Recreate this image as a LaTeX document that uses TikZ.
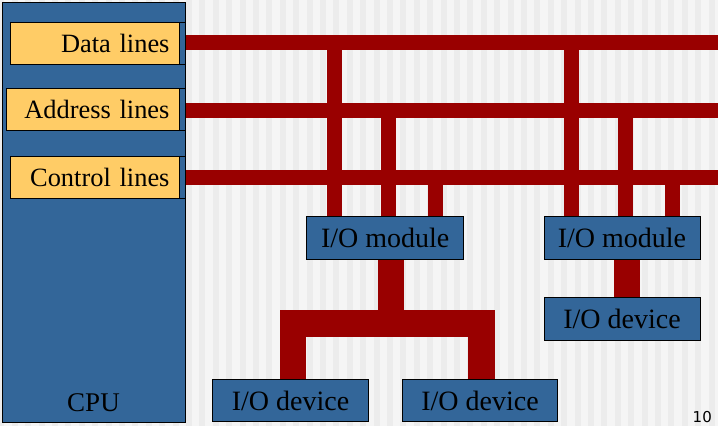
\documentclass[tikz,border=0pt]{standalone}
\usepackage{fontspec}
\setmainfont{Liberation Serif}
\newfontfamily\pagenumfont{DejaVu Sans}
\definecolor{cpublue}{HTML}{336699}
\definecolor{yellowbox}{HTML}{FFCC66}
\definecolor{busred}{HTML}{990000}
\definecolor{bglight}{HTML}{F5F5F5}
\definecolor{bgdark}{HTML}{ECECEC}
\pgfdeclarelayer{bg}
\pgfsetlayers{bg,main}
\tikzset{
  bigtext/.style={font=\fontsize{28}{32}\selectfont},
  ytext/.style={font=\fontsize{26.4}{30}\selectfont},
  bluebox/.style={draw=black, line width=1pt, fill=cpublue, inner sep=0pt, outer sep=0pt, anchor=north west, bigtext},
  ybox/.style={draw=black, line width=1pt, fill=yellowbox, inner xsep=9.5pt, inner ysep=0pt, outer sep=0pt, align=right, anchor=north west, minimum height=42pt, ytext},
  strip/.style={draw=black, line width=1pt, fill=cpublue, inner sep=0pt, outer sep=0pt, anchor=north west, minimum width=6pt, minimum height=42pt},
  bus/.style={draw=busred, line width=15pt},
  tree/.style={draw=busred, line width=26.5pt},
}
\begin{document}
\begin{tikzpicture}[x=1pt,y=-1pt]
\useasboundingbox (0,0) rectangle (718,426);
\begin{pgfonlayer}{bg}
  \fill[bglight] (0,0) rectangle (718,426);
  \foreach \k in {-15,...,39} \fill[bgdark] ({199.3+13.4*\k},0) rectangle ++(6,426);
\end{pgfonlayer}

% CPU
\node[bluebox, minimum width=183pt, minimum height=420pt] (cpu) at (2,2) {};
\node[font=\fontsize{27}{30}\selectfont, anchor=base] (cputxt) at ([yshift=11pt]cpu.south) {CPU};

% line boxes
\node[ybox, text width=150pt] (data) at (10,22) {Data lines};
\node[strip] (dataend) at (179,22) {};
\node[ybox, text width=154pt] (addr) at (6,88) {Address lines};
\node[strip] (addrend) at (179,88) {};
\node[ybox, text width=150pt] (ctrl) at (10,156) {Control lines};
\node[strip] (ctrlend) at (179,156) {};

% modules and devices
\node[bluebox, minimum width=157pt, minimum height=42.3pt] (modA) at (306.7,216.7) {I/O module};
\node[bluebox, minimum width=156pt, minimum height=42.3pt] (modB) at (544,216.7) {I/O module};
\node[bluebox, minimum width=156pt, minimum height=43pt] (devC) at (544,297.7) {I/O device};
\node[bluebox, minimum width=155.6pt, minimum height=42.4pt] (devA) at (212.7,379.3) {I/O device};
\node[bluebox, minimum width=155.4pt, minimum height=42.4pt] (devB) at (402.3,379.3) {I/O device};

\node[font=\pagenumfont\fontsize{15}{18}\selectfont, anchor=base east, inner sep=0pt] (pagenum) at (712,422.5) {10};

\coordinate (dataR) at (718,42.5);
\coordinate (addrR) at (718,110);
\coordinate (ctrlR) at (718,177.5);
\coordinate (split) at (391,323.6);

\begin{pgfonlayer}{bg}
  \draw[bus] (dataend.east |- dataR) -- (dataR);
  \draw[bus] (addrend.east |- addrR) -- (addrR);
  \draw[bus] (ctrlend.east |- ctrlR) -- (ctrlR);
  % drops to module A
  \draw[bus] ([xshift=-50.7pt]modA.north) -- ([xshift=-50.7pt]modA.north |- dataR);
  \draw[bus] ([xshift=3.5pt]modA.north) -- ([xshift=3.5pt]modA.north |- addrR);
  \draw[bus] ([xshift=50.3pt]modA.north) -- ([xshift=50.3pt]modA.north |- ctrlR);
  % drops to module B
  \draw[bus] ([xshift=-51pt]modB.north) -- ([xshift=-51pt]modB.north |- dataR);
  \draw[bus] ([xshift=3pt]modB.north) -- ([xshift=3pt]modB.north |- addrR);
  \draw[bus] ([xshift=50.7pt]modB.north) -- ([xshift=50.7pt]modB.north |- ctrlR);
  % module B to device C
  \draw[draw=busred, line width=26pt] ([xshift=5pt]modB.south) -- ([xshift=5pt]devC.north);
  % module A to devices A and B
  \draw[tree] ([xshift=5.8pt]modA.south) -- (split);
  \draw[tree] ([xshift=2.4pt]devA.north) |- (split) -| ([xshift=1.5pt]devB.north);
\end{pgfonlayer}
\end{tikzpicture}
\end{document}
